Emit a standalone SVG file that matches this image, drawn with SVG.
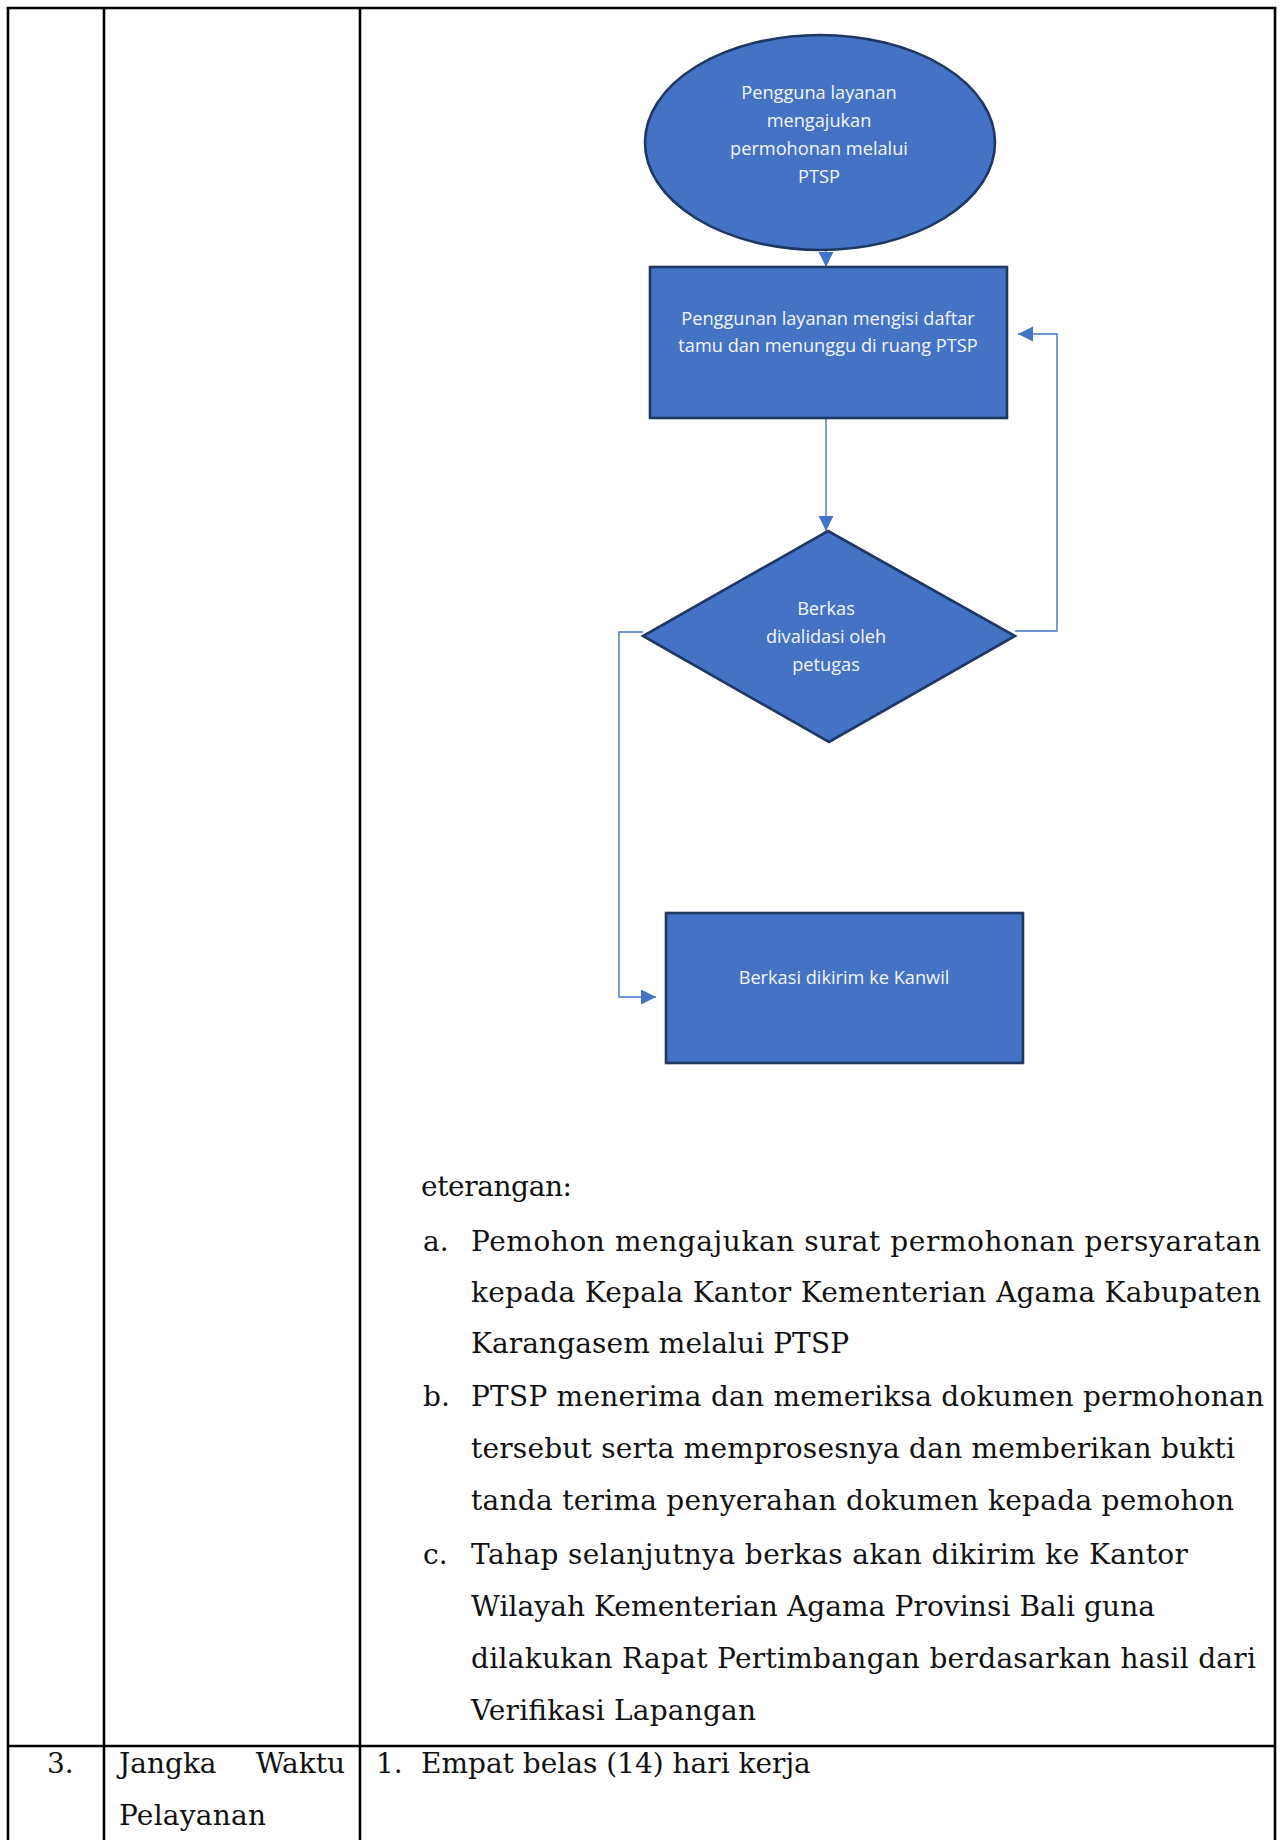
<svg xmlns="http://www.w3.org/2000/svg" width="1284" height="1840" viewBox="0 0 1284 1840">
  <style>
    .grid { stroke: #000; stroke-width: 2.6; fill: none; }
    .shape { fill: #4472C4; stroke: #1F3763; stroke-width: 2.6; }
    .label { font-family: "Open Sans", "Noto Sans", sans-serif; font-size: 18.2px; fill: #F4F6FB; text-anchor: middle; }
    .link { fill: none; stroke: #4472C4; stroke-width: 1.4; }
    .body { font-family: "DejaVu Serif", "Liberation Serif", serif; font-size: 28px; fill: #111; }
  </style>
  <defs>
    <marker id="arrow" markerUnits="userSpaceOnUse" markerWidth="16" markerHeight="16" refX="15" refY="7.5" orient="auto">
      <path d="M0,0 L15,7.5 L0,15 Z" fill="#4472C4"/>
    </marker>
  </defs>

  <rect width="1284" height="1840" fill="#fff"/>

  <!-- table rules -->
  <g id="table">
    <line class="grid" x1="6.7" y1="8" x2="1276.3" y2="8"/>
    <line class="grid" x1="8" y1="8" x2="8" y2="1840"/>
    <line class="grid" x1="104" y1="8" x2="104" y2="1840"/>
    <line class="grid" x1="360" y1="8" x2="360" y2="1840"/>
    <line class="grid" x1="1275" y1="8" x2="1275" y2="1840"/>
    <line class="grid" x1="8" y1="1746" x2="1275" y2="1746"/>
  </g>

  <!-- connectors -->
  <g id="connectors">
    <line class="link" x1="826" y1="250" x2="826" y2="267" marker-end="url(#arrow)"/>
    <line class="link" x1="826" y1="419" x2="826" y2="531" marker-end="url(#arrow)"/>
    <polyline class="link" points="1015,631 1057,631 1057,334 1018,334" marker-end="url(#arrow)"/>
    <polyline class="link" points="643,632 619,632 619,997 656,997" marker-end="url(#arrow)"/>
  </g>

  <!-- flow nodes -->
  <g id="node-start">
    <ellipse class="shape" cx="820" cy="142.5" rx="175" ry="107.5"/>
    <text class="label" x="819" y="99">Pengguna layanan</text>
    <text class="label" x="819" y="127">mengajukan</text>
    <text class="label" x="819" y="155">permohonan melalui</text>
    <text class="label" x="819" y="183">PTSP</text>
  </g>

  <g id="node-guestbook">
    <rect class="shape" x="650" y="267" width="357" height="151"/>
    <text class="label" x="828" y="325">Penggunan layanan mengisi daftar</text>
    <text class="label" x="828" y="352">tamu dan menunggu di ruang PTSP</text>
  </g>

  <g id="node-validate">
    <polygon class="shape" points="828,531 1015,636 829,742 643,636"/>
    <text class="label" x="826" y="615">Berkas</text>
    <text class="label" x="826" y="643">divalidasi oleh</text>
    <text class="label" x="826" y="671">petugas</text>
  </g>

  <g id="node-send">
    <rect class="shape" x="666" y="913" width="357" height="150"/>
    <text class="label" x="844" y="984">Berkasi dikirim ke Kanwil</text>
  </g>

  <!-- notes below the chart -->
  <g id="notes" class="body">
    <text x="421" y="1196" textLength="151">eterangan:</text>

    <text x="423" y="1251">a.</text>
    <text x="471" y="1251" textLength="790">Pemohon mengajukan surat permohonan persyaratan</text>
    <text x="471" y="1302" textLength="790">kepada Kepala Kantor Kementerian Agama Kabupaten</text>
    <text x="471" y="1353" textLength="378">Karangasem melalui PTSP</text>

    <text x="423" y="1406">b.</text>
    <text x="471" y="1406" textLength="793">PTSP menerima dan memeriksa dokumen permohonan</text>
    <text x="471" y="1458" textLength="764">tersebut serta memprosesnya dan memberikan bukti</text>
    <text x="471" y="1510" textLength="763">tanda terima penyerahan dokumen kepada pemohon</text>

    <text x="423" y="1564">c.</text>
    <text x="471" y="1564" textLength="717">Tahap selanjutnya berkas akan dikirim ke Kantor</text>
    <text x="471" y="1616" textLength="684">Wilayah Kementerian Agama Provinsi Bali guna</text>
    <text x="471" y="1668" textLength="785">dilakukan Rapat Pertimbangan berdasarkan hasil dari</text>
    <text x="471" y="1720" textLength="285">Verifikasi Lapangan</text>
  </g>

  <!-- row 3 -->
  <g id="row-3" class="body">
    <text x="47" y="1773">3.</text>
    <text x="119" y="1773">Jangka</text>
    <text x="345" y="1773" text-anchor="end">Waktu</text>
    <text x="119" y="1825" textLength="147">Pelayanan</text>
    <text x="376" y="1773">1.</text>
    <text x="421" y="1773">Empat belas (14) hari kerja</text>
  </g>
</svg>
